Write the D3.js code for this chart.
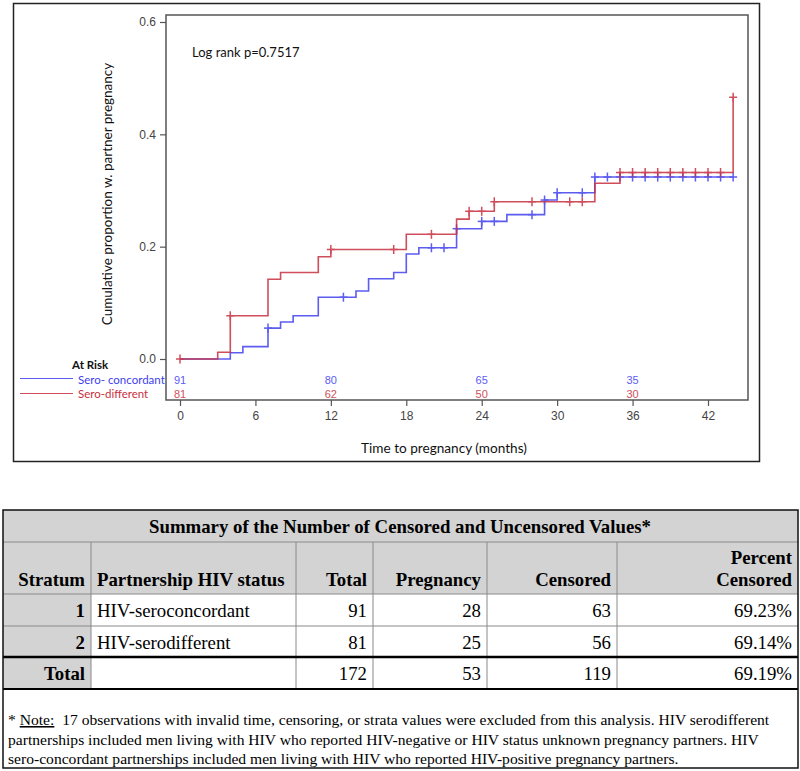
<!DOCTYPE html>
<html><head><meta charset="utf-8">
<script src="https://cdn.jsdelivr.net/npm/d3@7"></script>
<style>body{margin:0;background:#fff}svg{display:block}</style>
</head><body>
<script>
// ---- data ----
const concordTimes  = [0, 4, 5, 7, 8, 9, 11, 14, 15, 17, 18, 19, 22, 24, 26, 29, 30, 33];
const concordValues = [0, 0.011, 0.022, 0.055, 0.066, 0.077, 0.110, 0.121, 0.143, 0.154, 0.187, 0.198, 0.232, 0.245, 0.257, 0.283, 0.296, 0.324];
const concordEnd = 44;
const concordCensor = [7, 13, 20, 21, 22, 24, 25, 28, 29, 30, 32, 33, 34, 35, 36, 37, 38, 39, 40, 41, 42, 43, 44];
const diffTimes  = [0, 3, 4, 7, 8, 11, 12, 18, 22, 23, 25, 33, 35, 44];
const diffValues = [0, 0.012, 0.077, 0.142, 0.154, 0.182, 0.195, 0.222, 0.249, 0.263, 0.280, 0.313, 0.332, 0.466];
const diffEnd = 44;
const diffCensor = [0, 4, 12, 17, 20, 23, 24, 25, 28, 31, 32, 35, 36, 37, 38, 39, 40, 41, 42, 43, 44];
const xTicks = [0, 6, 12, 18, 24, 30, 36, 42];
const yTicks = [0.0, 0.2, 0.4, 0.6];
const riskTimes = [0, 12, 24, 36];
const riskConcord = [91, 80, 65, 35];
const riskDiff = [81, 62, 50, 30];
const seriesNames = ["Sero- concordant", "Sero-different"];

const tableTitle = "Summary of the Number of Censored and Uncensored Values*";
const tableHeaders = ["Stratum", "Partnership HIV status", "Total", "Pregnancy", "Censored", "Percent\nCensored"];
const tableRows = [
  ["1", "HIV-seroconcordant", "91", "28", "63", "69.23%"],
  ["2", "HIV-serodifferent", "81", "25", "56", "69.14%"],
  ["Total", "", "172", "53", "119", "69.19%"]
];
const noteLines = [
  ["* ", "Note:", "  17 observations with invalid time, censoring, or strata values were excluded from this analysis. HIV serodifferent"],
  ["", "", "partnerships included men living with HIV who reported HIV-negative or HIV status unknown pregnancy partners. HIV"],
  ["", "", "sero-concordant partnerships included men living with HIV who reported HIV-positive pregnancy partners."]
];

const BLUE = "#4040ee", RED = "#c83040";
const sans = "Lato, 'Open Sans', sans-serif";
const arial = "'Liberation Sans', Arial, sans-serif";
const serif = "'Liberation Serif', 'Times New Roman', serif";

const svg = d3.select("body").append("svg").attr("width", 800).attr("height", 771);

// outer chart border
svg.append("rect").attr("x", 13.5).attr("y", 3.5).attr("width", 746).attr("height", 458)
  .attr("fill", "none").attr("stroke", "#222").attr("stroke-width", 1.5);

const x = d3.scaleLinear().domain([0, 42]).range([180, 708]);
const y = d3.scaleLinear().domain([0, 0.6]).range([359, 22]);
const frame = {l: 166, t: 15, r: 748, b: 400};

// frame
svg.append("rect").attr("x", frame.l).attr("y", frame.t).attr("width", frame.r - frame.l).attr("height", frame.b - frame.t)
  .attr("fill", "none").attr("stroke", "#555").attr("stroke-width", 1.5);

// axes
const xAxis = d3.axisBottom(x).tickValues(xTicks).tickSize(6).tickPadding(5).tickFormat(d3.format("d"));
const gx = svg.append("g").attr("transform", `translate(0,${frame.b})`).call(xAxis);
const yAxis = d3.axisLeft(y).tickValues(yTicks).tickSize(6).tickPadding(4).tickFormat(d3.format(".1f"));
const gy = svg.append("g").attr("transform", `translate(${frame.l},0)`).call(yAxis);
[gx, gy].forEach(g => {
  g.select(".domain").remove();
  g.selectAll(".tick line").attr("stroke", "#555").attr("stroke-width", 1.2);
  g.selectAll(".tick text").attr("fill", "#444").style("font-family", arial).style("font-size", "12px");
});

// axis labels
svg.append("text").attr("x", 444).attr("y", 453).attr("text-anchor", "middle")
  .style("font-family", sans).style("font-size", "13.6px").attr("fill", "#111").text("Time to pregnancy (months)");
svg.append("text").attr("transform", "translate(112,194) rotate(-90)").attr("text-anchor", "middle")
  .style("font-family", sans).style("font-size", "13.5px").attr("fill", "#111").text("Cumulative proportion w. partner pregnancy");
svg.append("text").attr("x", 192).attr("y", 57)
  .style("font-family", sans).style("font-size", "13px").attr("fill", "#111").text("Log rank p=0.7517");

// step curves
function stepData(times, values, end) {
  const pts = times.map((t, i) => [t, values[i]]);
  pts.push([end, values[values.length - 1]]);
  return pts;
}
function valueAt(times, values, t) {
  let v = values[0];
  for (let i = 0; i < times.length; i++) if (times[i] <= t) v = values[i];
  return v;
}
const line = d3.line().x(d => x(d[0])).y(d => y(d[1])).curve(d3.curveStepAfter);
const series = [
  {times: concordTimes, values: concordValues, end: concordEnd, cens: concordCensor, color: BLUE},
  {times: diffTimes, values: diffValues, end: diffEnd, cens: diffCensor, color: RED}
];
series.forEach(s => {
  const g = svg.append("g").attr("opacity", 0.85);
  g.append("path").datum(stepData(s.times, s.values, s.end)).attr("d", line)
    .attr("fill", "none").attr("stroke", s.color).attr("stroke-width", 1.6);
  const cg = g.selectAll("g.c").data(s.cens).join("g")
    .attr("transform", t => `translate(${x(t)},${y(valueAt(s.times, s.values, t))})`);
  cg.append("line").attr("x1", 0).attr("x2", 0).attr("y1", -4.5).attr("y2", 4.5).attr("stroke", s.color).attr("stroke-width", 1.5);
  cg.append("line").attr("x1", -4).attr("x2", 4).attr("y1", 0).attr("y2", 0).attr("stroke", s.color).attr("stroke-width", 1.5);
});

// at risk
[[riskConcord, BLUE, 384], [riskDiff, RED, 398]].forEach(([vals, col, yy]) => {
  svg.append("g").selectAll("text").data(vals).join("text")
    .attr("x", (d, i) => x(riskTimes[i])).attr("y", yy).attr("text-anchor", "middle")
    .style("font-family", arial).style("font-size", "11px").attr("fill", col).attr("opacity", 0.85).text(d => d);
});
svg.append("text").attr("x", 72).attr("y", 369).style("font-family", sans).style("font-size", "11.5px")
  .style("font-weight", "bold").attr("fill", "#111").text("At Risk");
[[BLUE, 378.5, 384], [RED, 393.5, 398]].forEach(([col, ly, ty], i) => {
  svg.append("line").attr("x1", 20).attr("x2", 73).attr("y1", ly).attr("y2", ly).attr("stroke", col).attr("stroke-width", 1).attr("opacity", 0.85);
  svg.append("text").attr("x", 78).attr("y", ty).style("font-family", sans).style("font-size", "11.5px")
    .attr("fill", col).text(seriesNames[i]);
});

// ---- table ----
const colX = [3, 91, 296, 373, 487, 617, 798];
const rowY = [510, 542, 594, 626, 657, 689, 768];
const gray = "#d3d3d3";
const fs = "18.8px";
const tg = svg.append("g");
tg.append("rect").attr("x", colX[0]).attr("y", rowY[0]).attr("width", colX[6] - colX[0]).attr("height", rowY[1] - rowY[0]).attr("fill", gray);
tg.append("rect").attr("x", colX[0]).attr("y", rowY[1]).attr("width", colX[6] - colX[0]).attr("height", rowY[2] - rowY[1]).attr("fill", gray);
tg.append("rect").attr("x", colX[0]).attr("y", rowY[2]).attr("width", colX[1] - colX[0]).attr("height", rowY[5] - rowY[2]).attr("fill", gray);
const gridCol = "#8a8a8a";
for (let c = 1; c < 6; c++) {
  tg.append("line").attr("x1", colX[c]).attr("x2", colX[c]).attr("y1", rowY[1]).attr("y2", rowY[5]).attr("stroke", gridCol).attr("stroke-width", 1);
}
[1, 2, 3].forEach(r => tg.append("line").attr("x1", colX[0]).attr("x2", colX[6]).attr("y1", rowY[r]).attr("y2", rowY[r]).attr("stroke", gridCol).attr("stroke-width", 1));
tg.append("line").attr("x1", colX[0]).attr("x2", colX[6]).attr("y1", rowY[4]).attr("y2", rowY[4]).attr("stroke", "#000").attr("stroke-width", 2.5);
tg.append("line").attr("x1", colX[0]).attr("x2", colX[6]).attr("y1", rowY[5]).attr("y2", rowY[5]).attr("stroke", "#000").attr("stroke-width", 2);
tg.append("rect").attr("x", colX[0]).attr("y", rowY[0]).attr("width", colX[6] - colX[0]).attr("height", rowY[6] - rowY[0])
  .attr("fill", "none").attr("stroke", "#111").attr("stroke-width", 1.5);

tg.append("text").attr("x", 400).attr("y", 533).attr("text-anchor", "middle")
  .style("font-family", serif).style("font-size", fs).style("font-weight", "bold").text(tableTitle);
tableHeaders.forEach((h, c) => {
  const lines = h.split("\n");
  const left = c === 1;
  const tx = left ? colX[c] + 6 : colX[c + 1] - 6;
  lines.forEach((ln, k) => {
    tg.append("text").attr("x", tx).attr("y", 586 - (lines.length - 1 - k) * 22)
      .attr("text-anchor", left ? "start" : "end")
      .style("font-family", serif).style("font-size", fs).style("font-weight", "bold").text(ln);
  });
});
tableRows.forEach((row, r) => {
  row.forEach((v, c) => {
    const left = c === 1;
    tg.append("text").attr("x", left ? colX[c] + 6 : colX[c + 1] - 6).attr("y", rowY[r + 2] + 23)
      .attr("text-anchor", left ? "start" : "end")
      .style("font-family", serif).style("font-size", fs).style("font-weight", c === 0 ? "bold" : "normal").text(v);
  });
});
noteLines.forEach((ln, i) => {
  const t = tg.append("text").attr("x", 8).attr("y", 725 + i * 19.5)
    .style("font-family", serif).style("font-size", "15.6px").attr("fill", "#000").attr("xml:space", "preserve");
  t.append("tspan").text(ln[0]);
  if (ln[1]) t.append("tspan").attr("text-decoration", "underline").style("text-decoration", "underline").text(ln[1]);
  t.append("tspan").text(ln[2]);
});
</script>
</body></html>
